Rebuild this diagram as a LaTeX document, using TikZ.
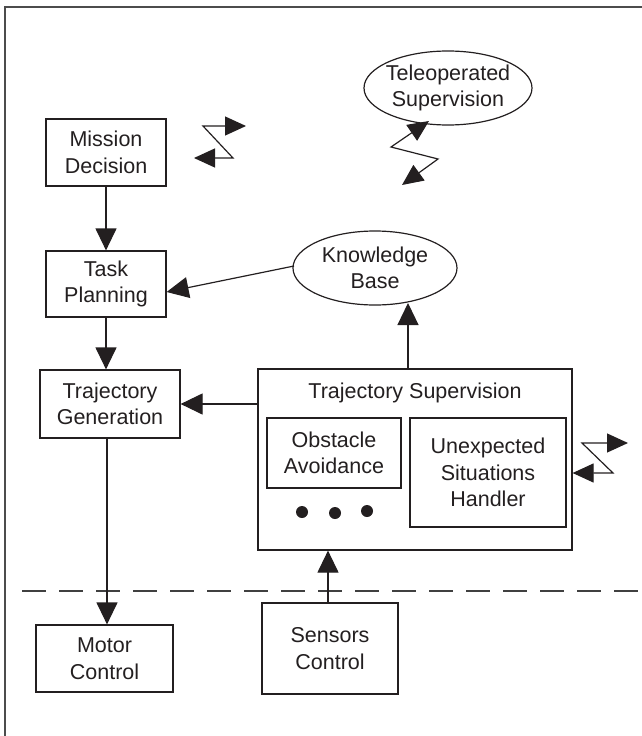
\documentclass[tikz,border=0pt]{standalone}
\usepackage{fontspec}
\setmainfont{Liberation Sans}
\usetikzlibrary{arrows.meta,shapes.geometric}
\definecolor{ink}{HTML}{231F20}
\tikzset{
  box/.style={draw=ink, line width=1.2pt, inner sep=0pt, align=center, text=ink,
     font=\fontsize{21.5}{26.5}\selectfont},
  lbl/.style={inner sep=0pt, align=center, text=ink, font=\fontsize{21.5}{26.5}\selectfont},
  ovalline/.style={draw=ink, line width=1.2pt},
  conn/.style={draw=ink, line width=1.2pt, -{Triangle[length=22pt,width=21pt]}},
  zig/.style={draw=ink, line width=1.2pt, {Triangle[length=21pt,width=19pt]}-{Triangle[length=21pt,width=19pt]}},
  dot/.style={circle, fill=ink, inner sep=0pt, minimum size=12pt}
}
\begin{document}
\begin{tikzpicture}[x=1pt,y=-1pt]
\useasboundingbox (0,0) rectangle (642,736);
% frame
\draw[line width=1.2pt, draw=black!70] (5,736) -- (5,7) -- (642,7);
% nodes
\node[box, minimum width=120pt, minimum height=67pt] (md) at (106,152.5) {Mission\\Decision};
\node[box, minimum width=120pt, minimum height=66pt] (tp) at (106,284) {Task\\Planning};
\node[box, minimum width=140pt, minimum height=68pt] (tg) at (110,404) {Trajectory\\Generation};
\node[box, minimum width=137pt, minimum height=67pt] (mc) at (104.5,658.5) {Motor\\Control};
\node[box, minimum width=136pt, minimum height=91pt] (sc) at (330,648.5) {Sensors\\Control};
\node[box, minimum width=314pt, minimum height=181pt] (ts) at (415,459.5) {};
\node[lbl] (tst) at (415,393) {Trajectory Supervision};
\node[box, minimum width=134pt, minimum height=70pt] (oa) at (334,453) {Obstacle\\Avoidance};
\node[box, minimum width=156pt, minimum height=109pt] (us) at (488,472.5) {Unexpected\\Situations\\Handler};
\node[dot] (d1) at (302,512) {};
\node[dot] (d2) at (335,513) {};
\node[dot] (d3) at (367,511) {};
% ellipses
\node[lbl] (kb) at (375,268) {Knowledge\\Base};
\draw[ovalline] (kb.center) ellipse [x radius=82, y radius=37];
\node[lbl] (to) at (448,88) {Teleoperated\\Supervision};
\draw[ovalline] (to.center) ellipse [x radius=84, y radius=37];
\coordinate (kbw) at (294,266);
\coordinate (kbs) at (408,303);
% dashed separator
\coordinate (dl) at (22,591);
\coordinate (dr) at (640,591);
\draw[draw=black!75, line width=1.2pt, dash pattern=on 24pt off 13pt] (dl) -- (dr);
% connectors
\draw[conn] (md.south) -- (md.south |- tp.north);
\draw[conn] (tp.south) -- (tp.south |- tg.north);
\draw[conn] (kbw) -- (tp.east |- 0,292);
\draw[conn] (ts.north -| kbs) -- (kbs);
\draw[conn] (ts.west |- 0,404) -- (tg.east |- 0,404);
\draw[conn] (tg.south -| 107,0) -- (mc.north -| 107,0);
\draw[conn] (sc.north -| 328,0) -- (ts.south -| 328,0);
% communication zigzags
\coordinate (z1a) at (194,158);
\coordinate (z1b) at (233,158);
\coordinate (z1c) at (203,126);
\coordinate (z1d) at (246,126);
\draw[zig] (z1a) -- (z1b) -- (z1c) -- (z1d);
\coordinate (z2a) at (402,185);
\coordinate (z2b) at (438,159);
\coordinate (z2c) at (391,147);
\coordinate (z2d) at (429,121);
\draw[zig] (z2a) -- (z2b) -- (z2c) -- (z2d);
\coordinate (z3b) at (613,473);
\coordinate (z3c) at (582,443);
\coordinate (z3d) at (628,443);
\draw[zig] (ts.east |- z3b) -- (z3b) -- (z3c) -- (z3d);
\end{tikzpicture}
\end{document}
